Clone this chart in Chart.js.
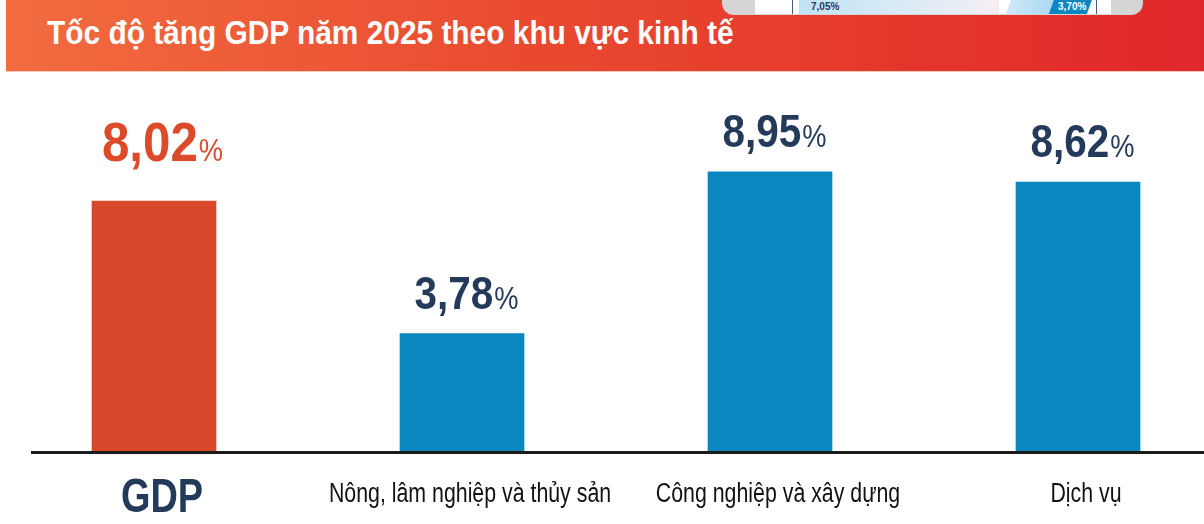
<!DOCTYPE html>
<html lang="vi">
<head>
<meta charset="utf-8">
<title>Tốc độ tăng GDP năm 2025 theo khu vực kinh tế</title>
<script src="https://cdn.jsdelivr.net/npm/chart.js@4/dist/chart.umd.min.js"></script>
<style>
    html, body { margin: 0; padding: 0; background: #fff; overflow: hidden; }
    body { width: 1204px; height: 524px; position: relative; font-family: 'Liberation Sans', Arial, sans-serif; }
    .header {
        position: absolute; left: 6px; top: 0; width: 1198px; height: 71px;
        background: linear-gradient(to right, #f26c40 0%, #e9492f 45%, #e0282a 100%);
        border-bottom: 1px solid #f7c9bb;
    }
    .header h1 {
        position: absolute; left: 41px; top: 14px; margin: 0; white-space: nowrap;
        color: #fff; font-size: 33px; font-weight: bold;
        transform: scaleX(0.905); transform-origin: left center;
    }
    /* cropped bit of the previous infographic at the top */
    .frame { position: absolute; left: 722px; top: -20px; width: 421px; height: 35px; background: #d5d5d5; border-radius: 0 0 12px 12px; }
    .frame .inner { position: absolute; left: 33px; top: 0; width: 356px; height: 34px; background: #fff; }
    .frame .vline { position: absolute; top: 0; width: 1px; height: 34px; background: #4a5a70; }
    .frame .band { position: absolute; left: 77px; top: 0; width: 200px; height: 34px; background: linear-gradient(to right, #bfe3f6, #e9eef5 80%, #f6eef0); }
    .frame .light { position: absolute; left: 290px; top: 0; width: 50px; height: 34px; background: linear-gradient(to right, #cfe9f8, #a6d6f1); transform: skewX(-20deg); }
    .frame .dark { position: absolute; left: 333px; top: 0; width: 38px; height: 34px; background: #0a87bf; transform: skewX(-20deg); }
    .frame span { position: absolute; top: 21px; font-size: 10px; font-weight: bold; }
</style>
</head>
<body>
<div class="header">
    <h1>Tốc độ tăng GDP năm 2025 theo khu vực kinh tế</h1>
</div>
<div class="frame">
    <div class="inner"></div>
    <div class="band"></div>
    <div class="vline" style="left:70px"></div>
    <div class="light"></div>
    <div class="dark"></div>
    <div class="vline" style="left:374px"></div>
    <span style="left:89px;color:#243a5a">7,05%</span>
    <span style="left:336px;color:#fff">3,70%</span>
</div>
<div style="position:absolute; left:0; top:72px; width:1236px; height:452px;">
    <canvas id="gdpChart"></canvas>
</div>
<script>
// data
const sectors = ['GDP', 'Nông, lâm nghiệp và thủy sản', 'Công nghiệp và xây dựng', 'Dịch vụ'];
const growthRates = [8.02, 3.78, 8.95, 8.62];

const orange = '#d9482a';
const blue = '#0a87bf';
const navy = '#243a5a';
const FONT = '"Liberation Sans", Arial, sans-serif';

// draw text squeezed horizontally (no narrow font installed)
function narrowText(ctx, text, x, y, sx) {
    ctx.save();
    ctx.translate(x, y);
    ctx.scale(sx, 1);
    ctx.fillText(text, 0, 0);
    ctx.restore();
}

const valueLabels = {
    id: 'valueLabels',
    afterDatasetsDraw(chart) {
        const ctx = chart.ctx;
        const meta = chart.getDatasetMeta(0);
        const sx = 0.88;

        // value on top of each bar
        meta.data.forEach((bar, i) => {
            const isGdp = i === 0;
            const num = growthRates[i].toFixed(2).replace('.', ',');
            const bigFont = 'bold ' + (isGdp ? 56 : 46) + 'px ' + FONT;
            const smallFont = '31px ' + FONT;
            ctx.save();
            ctx.font = bigFont;
            const w1 = ctx.measureText(num).width * sx;
            ctx.font = smallFont;
            const w2 = ctx.measureText('%').width * sx;
            const startX = bar.x - (w1 + w2) / 2 + (isGdp ? 8 : 4);
            const baseY = bar.y - (isGdp ? 40 : 25);
            ctx.fillStyle = isGdp ? '#dc4a2a' : navy;
            ctx.textBaseline = 'alphabetic';
            ctx.textAlign = 'left';
            ctx.font = bigFont;
            narrowText(ctx, num, startX, baseY, sx);
            ctx.font = smallFont;
            narrowText(ctx, '%', startX + w1 + 1, baseY, sx);
            ctx.restore();
        });

        // category labels under the axis
        const xScale = chart.scales.x;
        const y0 = chart.scales.y.getPixelForValue(0);
        sectors.forEach((name, i) => {
            const isGdp = i === 0;
            const x = xScale.getPixelForTick(i) + (isGdp ? 8 : 8);
            ctx.save();
            ctx.textAlign = 'center';
            ctx.textBaseline = 'alphabetic';
            ctx.fillStyle = isGdp ? navy : '#111';
            ctx.font = isGdp ? 'bold 48px ' + FONT : '27px ' + FONT;
            narrowText(ctx, name, x, y0 + (isGdp ? 60 : 50), 0.79);
            ctx.restore();
        });

        // baseline
        ctx.save();
        ctx.strokeStyle = '#1c1c1c';
        ctx.lineWidth = 3;
        ctx.beginPath();
        ctx.moveTo(31, y0 + 0.5);
        ctx.lineTo(chart.width, y0 + 0.5);
        ctx.stroke();
        ctx.restore();
    }
};

const ctx = document.getElementById('gdpChart').getContext('2d');
new Chart(ctx, {
    type: 'bar',
    data: {
        labels: sectors,
        datasets: [{
            data: growthRates,
            backgroundColor: growthRates.map((v, i) => i === 0 ? orange : blue),
            borderWidth: 0,
            barThickness: 124
        }]
    },
    options: {
        responsive: true,
        maintainAspectRatio: false,
        animation: false,
        layout: { padding: { top: 67, left: 0, right: 4, bottom: 0 } },
        plugins: {
            legend: { display: false },
            tooltip: { enabled: false }
        },
        scales: {
            x: {
                grid: { display: false, drawTicks: false },
                border: { display: false },
                ticks: { display: false },
                afterFit: (scale) => { scale.height = 72; }
            },
            y: {
                display: false,
                min: 0,
                max: 10
            }
        }
    },
    plugins: [valueLabels]
});
</script>
</body>
</html>
